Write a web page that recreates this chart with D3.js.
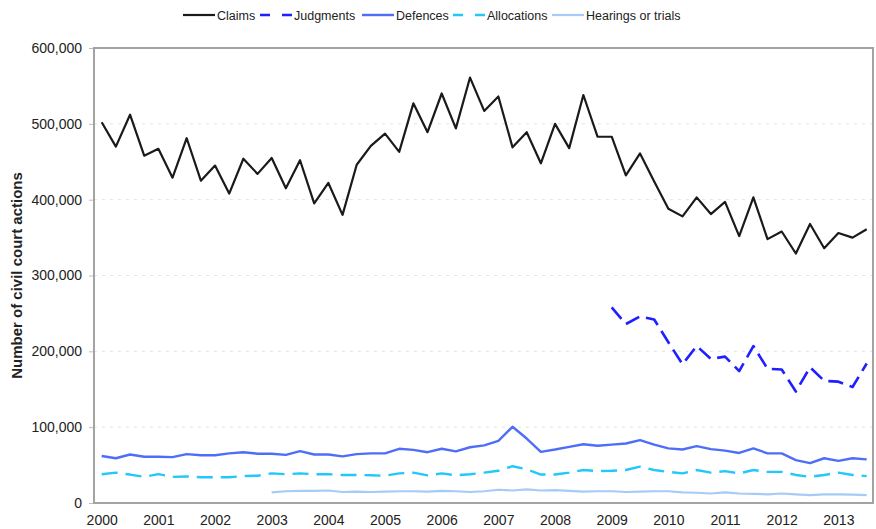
<!doctype html>
<html>
<head>
<meta charset="utf-8">
<script src="https://d3js.org/d3.v7.min.js"></script>
<style>
    body { margin: 0; background: #fff; }
    text { font-family: Arial, "Liberation Sans", sans-serif; fill: #222; }
</style>
</head>
<body>
<svg width="876" height="529"></svg>
<script>

    // quarterly figures, 2000 Q1 to 2013 Q3
    var years = [2000, 2001, 2002, 2003, 2004, 2005, 2006, 2007, 2008, 2009, 2010, 2011, 2012, 2013];
    var yTicks = [0, 100000, 200000, 300000, 400000, 500000, 600000];

    var claims = [502000, 470000, 512000, 458000, 467000, 429000, 481000, 425000, 445000, 408000,
        454000, 434000, 455000, 415000, 452000, 395000, 422000, 380000, 446000, 471000,
        487000, 463000, 527000, 489000, 540000, 494000, 561000, 517000, 536000, 469000,
        489000, 448000, 500000, 468000, 538000, 483000, 483000, 432000, 461000, 424000,
        388000, 378000, 403000, 381000, 397000, 352000, 403000, 348000, 358000, 329000,
        368000, 336000, 356000, 350000, 361000];

    var judgments = [null, null, null, null, null, null, null, null, null, null,
        null, null, null, null, null, null, null, null, null, null,
        null, null, null, null, null, null, null, null, null, null,
        null, null, null, null, null, null, 258000, 236000, 246000, 242000,
        212000, 183000, 207000, 190000, 193000, 174000, 207000, 177000, 176000, 147000,
        179000, 161000, 160000, 153000, 184000];

    var defences = [62000, 59000, 64000, 61000, 61000, 60500, 64500, 63000, 63000, 65500,
        67000, 65000, 65000, 63500, 68500, 64000, 64000, 61500, 64500, 65500,
        65500, 71500, 70000, 67000, 71500, 68000, 73500, 76000, 82000, 100500,
        85000, 67500, 70500, 74000, 77500, 75500, 77000, 78500, 83000, 77000,
        72000, 70500, 75000, 71000, 69000, 66000, 72000, 65500, 65500, 56500,
        52500, 59000, 55500, 59000, 57500];

    var allocations = [38000, 40000, 37500, 34500, 38000, 34500, 35000, 34000, 34000, 34000,
        35500, 36000, 39000, 38000, 39000, 38000, 38000, 37000, 37000, 36500,
        36000, 39000, 40000, 36500, 39000, 36500, 38000, 40000, 42500, 48500,
        44500, 37500, 37500, 40000, 43500, 42000, 42500, 43500, 48000, 43500,
        41000, 39000, 43500, 40000, 42000, 39000, 43500, 41000, 41000, 37000,
        34500, 37000, 40000, 37000, 35500];

    var hearings = [null, null, null, null, null, null, null, null, null, null,
        null, null, 14000, 15500, 16000, 16000, 16500, 14500, 15000, 14500,
        15000, 15500, 15500, 15000, 16000, 15500, 14500, 15500, 17500, 16500,
        18000, 16500, 17000, 16000, 15000, 15500, 15500, 14500, 15000, 15500,
        15500, 14000, 13500, 12500, 14000, 12500, 12000, 11500, 12500, 11500,
        10500, 11500, 11500, 11000, 10500];

    var seriesNames = ["Claims", "Judgments", "Defences", "Allocations", "Hearings or trials"];

    var series = [
        { name: seriesNames[0], values: claims, color: "#1a1a1a", width: 2.2, dash: null },
        { name: seriesNames[1], values: judgments, color: "#1f1fff", width: 2.6, dash: "15,7" },
        { name: seriesNames[2], values: defences, color: "#4f6ef7", width: 2.4, dash: null },
        { name: seriesNames[3], values: allocations, color: "#22c8f8", width: 2.4, dash: "16,8" },
        { name: seriesNames[4], values: hearings, color: "#a6cbf6", width: 2.2, dash: null }
    ];

    var svg = d3.select("svg");

    var plotLeft = 94, plotRight = 873, plotTop = 48, plotBottom = 503;

    var x = d3.scaleLinear().domain([0, 54]).range([101.7, 866.7]);
    var y = d3.scaleLinear().domain([0, 600000]).range([plotBottom, plotTop]);

    // gridlines
    svg.append("g")
       .selectAll("line")
       .data(yTicks.filter(function(d) { return d > 0 && d < 600000; }))
       .enter().append("line")
       .attr("x1", plotLeft)
       .attr("x2", plotRight)
       .attr("y1", function(d) { return y(d); })
       .attr("y2", function(d) { return y(d); })
       .attr("stroke", "#e2e2e2")
       .attr("stroke-dasharray", "3,5");

    // y axis labels + small ticks
    var yAxis = svg.append("g")
       .attr("transform", "translate(" + plotLeft + ",0)")
       .call(d3.axisLeft(y).tickValues(yTicks).tickSize(5).tickPadding(7).tickFormat(d3.format(",")));
    yAxis.select(".domain").remove();
    yAxis.selectAll("line").attr("stroke", "#bbb");
    yAxis.selectAll("text")
         .attr("font-size", "14px")
         .attr("font-family", "Arial, 'Liberation Sans', sans-serif")
         .attr("fill", "#222");

    // x axis labels
    var xAxis = svg.append("g")
       .attr("transform", "translate(0," + plotBottom + ")")
       .call(d3.axisBottom(x)
             .tickValues(years.map(function(d) { return (d - 2000) * 4; }))
             .tickSize(0).tickPadding(12)
             .tickFormat(function(d) { return years[d / 4]; }));
    xAxis.select(".domain").remove();
    xAxis.selectAll("text")
         .attr("font-size", "14px")
         .attr("font-family", "Arial, 'Liberation Sans', sans-serif")
         .attr("fill", "#222");

    // plot frame
    svg.append("rect")
       .attr("x", plotLeft)
       .attr("y", plotTop)
       .attr("width", plotRight - plotLeft)
       .attr("height", plotBottom - plotTop)
       .attr("fill", "none")
       .attr("stroke", "#a3a3a3")
       .attr("stroke-width", 2);

    svg.append("text")
       .attr("transform", "translate(22," + ((plotTop + plotBottom) / 2) + ") rotate(-90)")
       .attr("text-anchor", "middle")
       .attr("font-size", "15px")
       .attr("font-weight", "bold")
       .text("Number of civil court actions");

    var line = d3.line()
        .defined(function(d) { return d != null; })
        .x(function(d, i) { return x(i); })
        .y(function(d) { return y(d); });

    svg.append("g")
       .selectAll("path")
       .data(series.slice().reverse())
       .enter().append("path")
       .attr("d", function(s) { return line(s.values); })
       .attr("fill", "none")
       .attr("stroke", function(s) { return s.color; })
       .attr("stroke-width", function(s) { return s.width; })
       .attr("stroke-dasharray", function(s) { return s.dash; })
       .attr("stroke-linejoin", "round");

    // legend
    var legendX = [183, 260, 362, 453, 552];
    var legend = svg.append("g")
       .selectAll("g")
       .data(series)
       .enter().append("g")
       .attr("transform", function(d, i) { return "translate(" + legendX[i] + ",15)"; });

    legend.append("line")
       .attr("x1", 0)
       .attr("x2", 32)
       .attr("stroke", function(s) { return s.color; })
       .attr("stroke-width", function(s) { return s.width; })
       .attr("stroke-dasharray", function(s) { return s.dash ? "10,12,10" : null; });

    legend.append("text")
       .attr("x", 34)
       .attr("y", 4.5)
       .attr("font-size", "12.5px")
       .text(function(s) { return s.name; });

</script>
</body>
</html>
